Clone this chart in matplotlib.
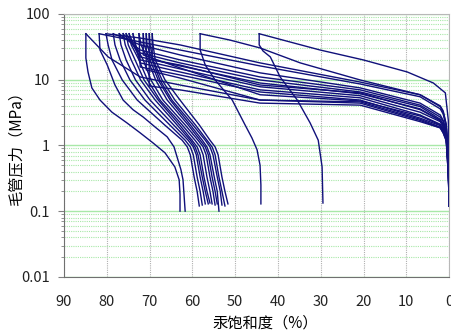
import matplotlib
matplotlib.use('Agg')
import matplotlib.pyplot as plt
import numpy as np
from matplotlib.ticker import LogLocator, FixedLocator, NullFormatter

plt.rcParams['font.family'] = ['Noto Sans CJK SC', 'DejaVu Sans']

# mercury saturation (%) and capillary pressure (MPa), one injection and one withdrawal curve per sample
inj_s = [
    [84.9, 79.7, 72.2, 62.9, 44.2, 20.8, 6.8, 2.1, 1.4, 0.7, 0.2, 0],
    [81.8, 72.2, 62.9, 44.2, 20.8, 6.8, 2.1, 1.4, 0.7, 0.2, 0],
    [80.2, 72.2, 62.9, 44.2, 20.8, 6.8, 2.1, 1.4, 0.7, 0.2, 0],
    [78.5, 72.2, 62.9, 44.2, 20.8, 6.8, 2.1, 1.4, 0.7, 0.2, 0],
    [77.1, 72.2, 62.9, 44.2, 20.8, 6.8, 2.1, 1.4, 0.7, 0.2, 0],
    [76.2, 72.2, 62.9, 44.2, 20.8, 6.8, 2.1, 1.4, 0.7, 0.2, 0],
    [75.5, 72.2, 62.9, 44.2, 20.8, 6.8, 2.1, 1.4, 0.7, 0.2, 0],
    [74.8, 72.2, 62.9, 44.2, 20.8, 6.8, 2.1, 1.4, 0.7, 0.2, 0],
    [73.9, 72.2, 62.9, 44.2, 20.8, 6.8, 2.1, 1.4, 0.7, 0.2, 0],
    [72.5, 72.2, 62.9, 44.2, 20.8, 6.8, 2.1, 1.4, 0.7, 0.2, 0],
    [71.5, 71.5, 62.9, 44.2, 20.8, 6.8, 2.1, 1.4, 0.7, 0.2, 0],
    [70.8, 70.8, 62.9, 44.2, 20.8, 6.8, 2.1, 1.4, 0.7, 0.2, 0],
    [70.1, 70.1, 62.9, 44.2, 20.8, 6.8, 2.1, 1.4, 0.7, 0.2, 0],
    [69.4, 69.4, 62.9, 44.2, 20.8, 6.8, 2.1, 1.4, 0.7, 0.2, 0],
    [58.2, 51.2, 44.2, 34.8, 20.8, 6.8, 2.1, 1.4, 0.7, 0.2, 0],
    [44.4, 30.2, 20.1, 9.8, 3.7, 0.9, 0.2, 0],
]
inj_p = [
    [50, 22.2, 11.0, 8.3, 4.9, 4.4, 2.4, 1.85, 1.55, 1.2, 0.5, 0.12],
    [50, 37.5, 28.3, 16.2, 8.6, 5.5, 3.6, 3.0, 1.9, 0.86, 0.12],
    [50, 43, 33.8, 18.0, 9.2, 5.9, 3.9, 3.2, 2.05, 0.86, 0.12],
    [50, 33.8, 23.8, 12.7, 7.5, 4.4, 2.9, 2.4, 1.7, 0.6, 0.12],
    [50, 28.3, 20.0, 11.0, 7.0, 4.1, 2.7, 2.3, 1.6, 0.6, 0.12],
    [50, 25.5, 18.0, 9.9, 6.5, 3.9, 2.5, 2.1, 1.55, 0.5, 0.12],
    [50, 22.2, 16.2, 8.9, 6.1, 3.6, 2.4, 2.05, 1.5, 0.5, 0.12],
    [50, 20.0, 14.6, 7.8, 5.7, 3.2, 2.3, 1.9, 1.45, 0.43, 0.12],
    [50, 18.0, 13.1, 7.0, 5.3, 2.9, 2.1, 1.8, 1.4, 0.43, 0.12],
    [50, 15.6, 11.8, 6.5, 4.9, 2.6, 2.0, 1.65, 1.3, 0.36, 0.12],
    [50, 23.8, 15.1, 5.9, 4.75, 2.8, 2.05, 1.7, 1.35, 0.43, 0.12],
    [50, 14.1, 10.6, 4.9, 4.6, 2.5, 1.9, 1.6, 1.25, 0.36, 0.12],
    [50, 8.0, 7.0, 4.4, 4.1, 2.3, 1.85, 1.55, 1.17, 0.36, 0.12],
    [50, 20.0, 16.7, 8.3, 6.3, 3.5, 2.4, 2.05, 1.5, 0.43, 0.12],
    [50, 40, 30.4, 18.0, 9.9, 5.9, 4.0, 3.35, 2.1, 0.6, 0.12],
    [50, 28.3, 20, 13.1, 8.9, 6.3, 2.4, 0.12],
]

wd_s = [
    [84.9, 84.9, 84.4, 83.5, 81.6, 78.8, 75.3, 72.2, 69.2, 66.4, 64.1, 63.1, 62.9, 62.9],
    [81.8, 81.6, 79.9, 78.1, 76.2, 73.9, 71.5, 68.7, 65.9, 64.3, 63.6, 62.7, 62.2, 61.7],
    [80.2, 79.7, 78.8, 76.4, 72.9, 66.5, 62.4, 61.2, 60.5, 59.6, 58.9, 58.4],
    [78.5, 78.1, 76.9, 74.6, 71.1, 65.3, 61.7, 60.5, 59.8, 58.9, 58.2, 57.7],
    [77.1, 76.7, 75.5, 73.3, 69.9, 64.4, 61.0, 59.8, 59.1, 58.2, 57.5, 57.0],
    [76.2, 75.7, 74.3, 72.1, 68.7, 63.6, 60.5, 59.4, 58.7, 57.7, 57.0, 56.3],
    [75.5, 75.0, 73.4, 71.3, 68.0, 63.0, 60.1, 58.9, 58.2, 57.3, 56.6, 55.9],
    [74.8, 74.3, 72.5, 70.5, 67.6, 62.4, 59.4, 58.2, 57.5, 56.6, 55.9, 55.4],
    [73.9, 73.4, 71.5, 69.7, 66.9, 61.7, 58.7, 57.5, 56.8, 55.9, 55.2, 54.7],
    [72.5, 72.0, 70.4, 68.6, 65.9, 61.0, 58.2, 57.0, 56.3, 55.4, 54.7, 54.2],
    [71.5, 71.3, 69.9, 68.0, 65.2, 60.5, 57.7, 56.6, 55.9, 54.9, 54.2, 53.8],
    [70.8, 70.6, 69.4, 67.6, 64.8, 59.9, 57.0, 55.9, 55.2, 54.2, 53.5, 53.1],
    [70.1, 69.9, 69.2, 67.1, 64.1, 59.3, 56.6, 55.4, 54.7, 53.8, 53.1, 52.4],
    [69.4, 69.2, 68.7, 66.4, 62.9, 58.4, 55.9, 54.7, 54.0, 53.1, 52.4, 51.7],
    [58.2, 58.2, 57.0, 54.7, 50.7, 47.7, 46.1, 44.9, 44.2, 44.0, 44.0],
    [44.4, 44.4, 43.5, 41.8, 39.5, 35.5, 32.5, 30.6, 29.7, 29.5],
]
wd_p = [
    [50, 21.4, 13.1, 7.5, 4.9, 3.2, 2.2, 1.55, 1.09, 0.77, 0.47, 0.30, 0.18, 0.10],
    [50, 28.3, 16.7, 8.3, 4.9, 3.5, 2.7, 1.9, 1.35, 0.95, 0.67, 0.43, 0.30, 0.10],
    [50, 33.8, 20, 9.9, 4.9, 2.05, 1.2, 0.95, 0.72, 0.33, 0.2, 0.12],
    [50, 33.8, 20, 9.9, 4.9, 2.05, 1.2, 0.95, 0.72, 0.33, 0.2, 0.124],
    [50, 33.8, 20, 9.9, 4.9, 2.05, 1.2, 0.95, 0.72, 0.33, 0.2, 0.129],
    [50, 33.8, 20, 9.9, 4.9, 2.05, 1.2, 0.95, 0.72, 0.33, 0.2, 0.129],
    [50, 33.8, 20, 9.9, 4.9, 2.05, 1.2, 0.95, 0.72, 0.33, 0.2, 0.133],
    [50, 33.8, 20, 9.9, 4.9, 2.05, 1.2, 0.95, 0.72, 0.33, 0.2, 0.129],
    [50, 33.8, 20, 9.9, 4.9, 2.05, 1.2, 0.95, 0.72, 0.33, 0.2, 0.124],
    [50, 33.8, 20, 9.9, 4.9, 2.05, 1.2, 0.95, 0.72, 0.33, 0.2, 0.129],
    [50, 33.8, 20, 9.9, 4.9, 2.05, 1.2, 0.95, 0.72, 0.33, 0.2, 0.10],
    [50, 33.8, 20, 9.9, 4.9, 2.05, 1.2, 0.95, 0.72, 0.33, 0.2, 0.124],
    [50, 33.8, 20, 9.9, 4.9, 2.05, 1.2, 0.95, 0.72, 0.33, 0.2, 0.12],
    [50, 33.8, 20, 9.9, 4.9, 2.05, 1.2, 0.95, 0.72, 0.33, 0.2, 0.129],
    [50, 28.3, 16.7, 9.9, 4.9, 2.05, 1.3, 0.86, 0.5, 0.25, 0.129],
    [50, 33.8, 27.3, 22.2, 11.0, 4.9, 2.2, 1.2, 0.47, 0.133],
]

x_ticks = [90, 80, 70, 60, 50, 40, 30, 20, 10, 0]
y_ticks = [0.01, 0.1, 1, 10, 100]
y_labels = ['0.01', '0.1', '1', '10', '100']

fig = plt.figure(figsize=(4.51, 3.32), dpi=100)
ax = fig.add_axes([0.142, 0.166, 0.854, 0.792])

line_color = '#10107a'
for s, p in zip(inj_s, inj_p):
    ax.plot(s, p, color=line_color, lw=1.0)
for s, p in zip(wd_s, wd_p):
    ax.plot(s, p, color=line_color, lw=1.0)

ax.set_yscale('log')
ax.set_xlim(90, 0)
ax.set_ylim(0.01, 100)

ax.xaxis.set_major_locator(FixedLocator(x_ticks))
ax.set_xticklabels([str(v) for v in x_ticks])
ax.yaxis.set_major_locator(FixedLocator(y_ticks))
ax.set_yticklabels(y_labels)
ax.yaxis.set_minor_locator(LogLocator(base=10, subs=np.arange(2, 10)))
ax.yaxis.set_minor_formatter(NullFormatter())

ax.grid(True, which='major', axis='y', color='#a8e8a8', lw=1.0, ls='-')
ax.grid(True, which='minor', axis='y', color='#a8e8a8', lw=0.8, ls=(0, (1, 1)))
ax.grid(True, which='major', axis='x', color='#b0b0b0', lw=0.8, ls=(0, (1, 1)))
ax.set_axisbelow(True)

ax.tick_params(axis='x', which='both', length=0, pad=13, labelsize=10.5, colors='#222222')
ax.tick_params(axis='y', which='major', length=4, direction='out', pad=6, labelsize=10.5, colors='#222222')
ax.tick_params(axis='y', which='minor', length=2, direction='out', color='#808080')
ax.tick_params(axis='y', which='major', color='#808080')

for side in ['left', 'bottom']:
    ax.spines[side].set_color('#707070')
for side in ['top', 'right']:
    ax.spines[side].set_color('#b8b8b8')

ax.set_xlabel('汞饱和度（%）', fontsize=11)
ax.xaxis.set_label_coords(0.522, -0.145)
ax.set_ylabel('毛管压力（MPa）', fontsize=11)
ax.yaxis.set_label_coords(-0.104, 0.50)

fig.savefig('out.png', dpi=100)
